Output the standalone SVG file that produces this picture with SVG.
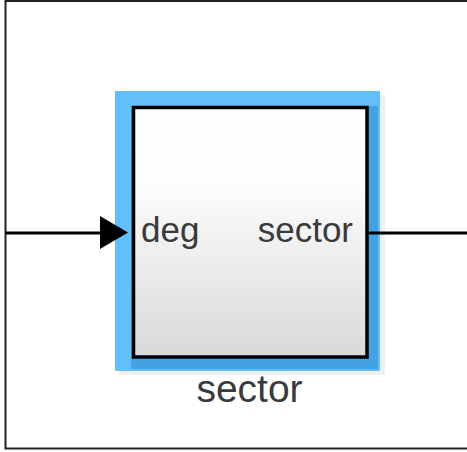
<svg xmlns="http://www.w3.org/2000/svg" width="467" height="452" viewBox="0 0 467 452">
<defs>
<linearGradient id="body" x1="0" y1="0" x2="0" y2="1">
<stop offset="0" stop-color="#ffffff"/>
<stop offset="0.3" stop-color="#fdfdfd"/>
<stop offset="1" stop-color="#d9d9d9"/>
</linearGradient>
<style>
.lbl{font-family:"Liberation Sans",Arial,sans-serif;fill:#3a3a3a}
.wire{stroke:#000;stroke-width:3;fill:none}
</style>
</defs>
<rect x="0" y="0" width="467" height="452" fill="#fff"/>
<rect id="frame" x="5.5" y="1" width="470" height="447.5" fill="none" stroke="#222" stroke-width="2"/>
<g id="sector">
<rect x="119" y="95" width="266" height="280" fill="#e6e6e6" opacity="0.6"/>
<rect x="115" y="91" width="265" height="280" fill="#63bff9"/>
<rect x="131" y="106" width="247" height="263" fill="#42a2e2"/>
<rect x="133.5" y="107.5" width="233.5" height="249.5" fill="url(#body)" stroke="#000" stroke-width="3.5"/>
<text class="lbl" x="141" y="242" font-size="35">deg</text>
<text class="lbl" x="353" y="242" font-size="35" text-anchor="end">sector</text>
<text class="lbl" x="249.5" y="402" font-size="39" text-anchor="middle">sector</text>
</g>
<g id="connectors">
<line class="wire" x1="6" y1="233" x2="102" y2="233"/>
<polygon points="100,216 128,232.5 100,249" fill="#000"/>
<line class="wire" x1="368" y1="233" x2="467" y2="233"/>
</g>
</svg>
